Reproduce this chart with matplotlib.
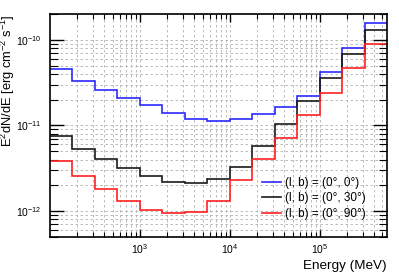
import numpy as np
import matplotlib
matplotlib.use("Agg")
import matplotlib.pyplot as plt
from matplotlib.ticker import LogLocator, FixedLocator, NullFormatter

plt.rcParams['font.family'] = ['Liberation Sans', 'DejaVu Sans']
plt.rcParams['mathtext.fontset'] = 'custom'
plt.rcParams['mathtext.rm'] = 'Liberation Sans'
plt.rcParams['mathtext.it'] = 'Liberation Sans:italic'
plt.rcParams['mathtext.default'] = 'regular'

# energy bin edges (log10 MeV)
log_edges = [2.0, 2.25, 2.5, 2.75, 3.0, 3.25, 3.5, 3.75, 4.0,
             4.25, 4.5, 4.75, 5.0, 5.25, 5.5, 5.75]

# E^2 dN/dE [erg cm^-2 s^-1]
flux_b0 = [4.6e-11, 3.3e-11, 2.6e-11, 2.07e-11, 1.72e-11, 1.39e-11, 1.2e-11, 1.14e-11,
           1.18e-11, 1.36e-11, 1.63e-11, 2.22e-11, 4.18e-11, 8.0e-11, 1.55e-10]
flux_b30 = [7.5e-12, 5.3e-12, 4.07e-12, 3.17e-12, 2.56e-12, 2.2e-12, 2.14e-12, 2.39e-12,
            3.26e-12, 5.8e-12, 1.05e-11, 1.93e-11, 3.63e-11, 6.9e-11, 1.3e-10]
flux_b90 = [3.89e-12, 2.56e-12, 1.8e-12, 1.32e-12, 1.045e-12, 9.4e-13, 9.9e-13, 1.3e-12,
            2.3e-12, 4.07e-12, 7.13e-12, 1.32e-11, 2.4e-11, 4.64e-11, 9.0e-11]

labels = [u"(l, b) = (0\u00b0, 0\u00b0)", u"(l, b) = (0\u00b0, 30\u00b0)", u"(l, b) = (0\u00b0, 90\u00b0)"]
colors = ["#2a2aff", "#1a1a1a", "#ff2020"]

xmajor = [1e3, 1e4, 1e5]
ymajor = [1e-12, 1e-11, 1e-10]

edges = 10 ** np.array(log_edges)

fig = plt.figure(figsize=(3.99, 2.73), dpi=100)
ax = fig.add_axes([0.1253, 0.132, 0.8447, 0.8167])

for vals, lab, c in zip([flux_b0, flux_b30, flux_b90], labels, colors):
    ax.stairs(vals, edges, color=c, lw=1.2, label=lab, baseline=None)

ax.set_xscale('log')
ax.set_yscale('log')
ax.set_xlim(edges[0], edges[-1])
ax.set_ylim(5e-13, 2e-10)

ax.xaxis.set_major_locator(FixedLocator(xmajor))
ax.yaxis.set_major_locator(FixedLocator(ymajor))
for a in [ax.xaxis, ax.yaxis]:
    a.set_minor_locator(LogLocator(base=10, subs=np.arange(2, 10), numticks=20))
    a.set_minor_formatter(NullFormatter())

ax.tick_params(which='both', direction='in', top=True, right=True, labelsize=7.5)
ax.tick_params(axis='x', which='major', length=6, width=1, pad=4)
ax.tick_params(axis='x', which='minor', length=3.5, width=0.8)
ax.tick_params(axis='y', which='major', length=10, width=1, pad=6)
ax.tick_params(axis='y', which='minor', length=6, width=0.8)
ax.grid(True, which='both', ls=(0, (3, 3)), color='#b0b0b0', lw=0.6)
ax.set_axisbelow(True)
for s in ax.spines.values():
    s.set_linewidth(1.2)

ax.set_xlabel("Energy (MeV)", fontsize=9.7, loc='right', labelpad=3)
ax.set_ylabel(r"E$^{2}$dN/dE [erg cm$^{-2}$ s$^{-1}$]", fontsize=9.3, loc='top')
ax.yaxis.set_label_coords(-0.097, 1.0)

ax.legend(loc='upper left', bbox_to_anchor=(0.629, 0.27), frameon=False, fontsize=8.5,
          handlelength=1.65, handletextpad=0.3, labelspacing=0.3, borderpad=0,
          borderaxespad=0)

fig.savefig("out.png", dpi=100)
